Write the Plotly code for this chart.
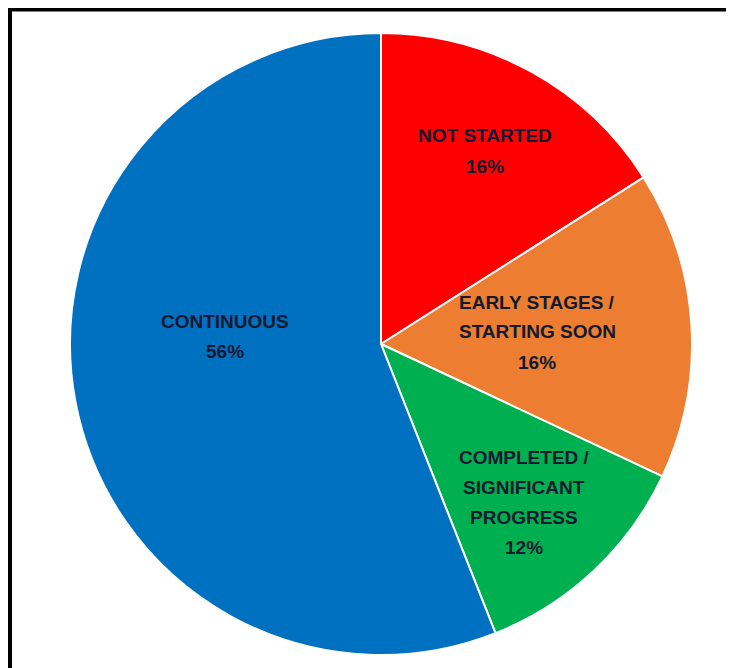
import plotly.graph_objects as go

labels = ["NOT STARTED", "EARLY STAGES /<br>STARTING SOON", "COMPLETED /<br>SIGNIFICANT<br>PROGRESS", "CONTINUOUS"]
values = [16, 16, 12, 56]
colors = ["#FF0000", "#ED7D31", "#00B050", "#0070C0"]

W, H = 734, 668
OFF = 8  # page body margin offset

# label block centres (screen px) - layout only
label_pos = [(485, 151), (537, 332), (524, 502), (225, 336)]
line_gap = 30

fig = go.Figure(go.Pie(
    labels=labels,
    values=values,
    sort=False,
    direction="clockwise",
    rotation=0,
    marker=dict(colors=colors, line=dict(color="white", width=2)),
    textinfo="none",
    hoverinfo="label+percent",
    domain=dict(x=[(70 - OFF) / W, (692 - OFF) / W], y=[1 - (655 - OFF) / H, 1 - (33 - OFF) / H]),
    showlegend=False,
))

total = sum(values)
annotations = []
for lab, val, (cx, cy) in zip(labels, values, label_pos):
    lines = lab.split("<br>") + [f"{round(100 * val / total)}%"]
    n = len(lines)
    for i, ln in enumerate(lines):
        sy = cy + (i - (n - 1) / 2) * line_gap
        annotations.append(dict(
            x=(cx - OFF) / W, y=1 - (sy - OFF) / H, xref="paper", yref="paper",
            text=ln, showarrow=False, xanchor="center", yanchor="middle",
            font=dict(family="Liberation Sans, Arial", size=19, color="#111a30", weight="bold"),
        ))

fig.update_layout(
    width=W, height=H,
    margin=dict(l=0, r=0, t=0, b=0),
    paper_bgcolor="white",
    plot_bgcolor="white",
    showlegend=False,
    annotations=annotations,
    shapes=[
        dict(type="line", xref="paper", yref="paper", x0=0, x1=1.0, y0=1 - 1.5 / H, y1=1 - 1.5 / H,
             line=dict(color="black", width=4)),
        dict(type="line", xref="paper", yref="paper", x0=2 / W, x1=2 / W, y0=1, y1=0,
             line=dict(color="black", width=4)),
    ],
)

fig.write_html("out.html")
